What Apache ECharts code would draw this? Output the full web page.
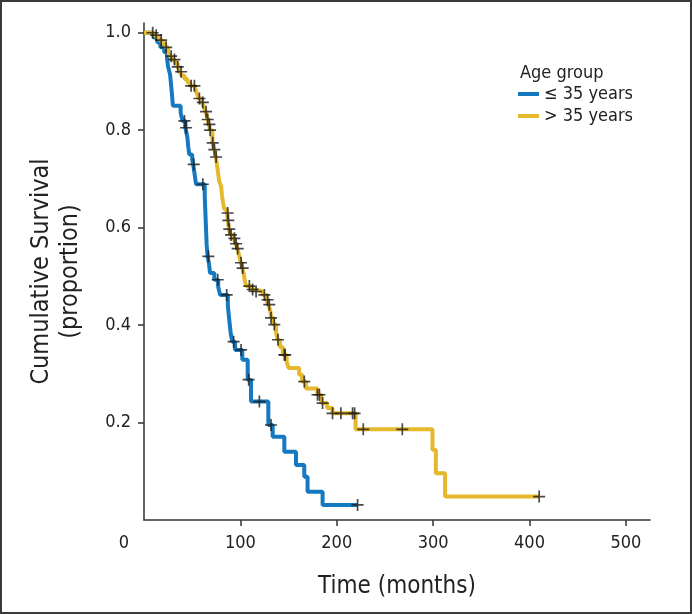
<!DOCTYPE html>
<html>
<head>
<meta charset="utf-8">
<script src="https://cdn.jsdelivr.net/npm/echarts@6/dist/echarts.min.js"></script>
<style>
  html, body { margin: 0; padding: 0; background: #fff; }
  #chart { width: 692px; height: 614px; }
  #frame { position: absolute; left: 0; top: 0; width: 692px; height: 614px; box-sizing: border-box; border: 2px solid #3a3a3a; pointer-events: none; }
</style>
</head>
<body>
<div id="chart"></div>
<div id="frame"></div>
<script>
// step points (time in months, survival after the event)
const youngTime = [0, 10, 14, 17, 21, 24, 25, 27, 28, 29, 30, 38, 40, 43, 45, 46, 47, 50, 51, 52.5, 54,
  63, 63.5, 64, 64.5, 65, 66, 67.5, 68.5, 73, 77, 79, 87, 88, 89, 90, 91.5, 94.5, 102, 107.6, 111,
  129, 133.5, 145.6, 157.7, 166.3, 169.7, 185.3, 221.6]
const youngSurv = [1, 0.99, 0.98, 0.97, 0.96, 0.945, 0.93, 0.915, 0.895, 0.874, 0.85, 0.836, 0.819, 0.805, 0.785, 0.765, 0.75, 0.74, 0.73, 0.71, 0.689,
  0.665, 0.64, 0.615, 0.59, 0.565, 0.541, 0.525, 0.507, 0.493, 0.478, 0.462, 0.44, 0.42, 0.40, 0.383, 0.366, 0.349, 0.329, 0.288, 0.243,
  0.195, 0.171, 0.140, 0.113, 0.089, 0.058, 0.031, 0.031]
const youngCensor = [42, 43.7, 51.6, 61, 66.8, 76.5, 85.8, 93, 100.7, 108.6, 119.7, 131.8, 221.6]

const oldTime = [0, 10, 13, 16, 19, 22, 25, 27, 29, 32, 35, 37, 39, 42, 45, 48, 53, 55, 57, 60, 62, 64, 65, 66, 67.5, 68.5, 71, 73, 74.5,
  76, 77, 78, 80, 81, 82, 83.5, 86, 87, 88, 90, 93, 95, 97, 99, 100.5, 102, 103.5, 104.5, 106, 111, 115, 123, 127, 129, 131, 131.8,
  134, 137, 138.5, 141, 144, 148, 150, 161, 164, 168, 180, 184, 190, 195.6, 219.5, 299.3, 302.8, 312.4, 410]
const oldSurv = [1, 0.995, 0.99, 0.985, 0.978, 0.97, 0.96, 0.952, 0.945, 0.938, 0.93, 0.92, 0.912, 0.905, 0.898, 0.891, 0.885, 0.875, 0.865, 0.857, 0.848, 0.838, 0.83, 0.822, 0.812, 0.8, 0.774, 0.76, 0.745,
  0.725, 0.71, 0.695, 0.685, 0.665, 0.651, 0.637, 0.63, 0.615, 0.597, 0.585, 0.578, 0.567, 0.557, 0.54, 0.528, 0.517, 0.505, 0.492, 0.48, 0.473, 0.469, 0.462, 0.452, 0.442, 0.43, 0.415,
  0.401, 0.385, 0.37, 0.355, 0.339, 0.325, 0.312, 0.298, 0.284, 0.27, 0.257, 0.24, 0.23, 0.219, 0.186, 0.144, 0.096, 0.048, 0.048]
const oldCensor = [9, 12.6, 17.8, 23, 28.2, 31.6, 35, 38.5, 48.9, 52.3, 57.5, 61, 64.4, 66.1, 67.9, 68.6, 71.3, 73, 74.8,
  86.8, 87.5, 88.5, 90.3, 93.8, 95.5, 97.2, 100.7, 102.4, 109.3, 112.7, 116.3, 124.9, 128.3, 130, 131.8, 135.2, 139, 145.6, 146.5,
  166.3, 180, 182, 185.3, 195.6, 204.3, 216.4, 218.5, 227.5, 268, 410]

const xTicks = [0, 100, 200, 300, 400, 500]
const yTicks = [0.2, 0.4, 0.6, 0.8, 1.0]
const groupNames = ['≤ 35 years', '> 35 years']
const colors = ['#1479c0', '#e6b82b']

const FONT = '"Liberation Sans Narrow", "DejaVu Sans Condensed", "Liberation Sans", sans-serif'
const plusPath = 'path://M4.3,0 H5.7 V4.3 H10 V5.7 H5.7 V10 H4.3 V5.7 H0 V4.3 H4.3 Z'

function steps(times, surv) {
  return times.map((t, i) => [t, surv[i]])
}
function censorPoints(cens, times, surv) {
  return cens.map(c => {
    let s = surv[0]
    for (let i = 0; i < times.length; i++) {
      if (times[i] <= c) s = surv[i]
    }
    return [c, s]
  })
}

const chart = echarts.init(document.getElementById('chart'))
chart.setOption({
  animation: false,
  backgroundColor: '#fff',
  textStyle: { fontFamily: FONT },
  title: {
    text: 'Age group',
    left: 515,
    top: 59,
    textStyle: { fontFamily: FONT, fontSize: 18, fontWeight: 'normal', color: '#222' }
  },
  legend: {
    data: groupNames,
    orient: 'vertical',
    left: 513,
    top: 80,
    itemWidth: 21,
    itemHeight: 4,
    itemGap: 4,
    icon: 'rect',
    textStyle: { fontFamily: FONT, fontSize: 18, color: '#222' }
  },
  grid: { left: 144, right: 42, top: 23, bottom: 94 },
  xAxis: {
    type: 'value',
    min: 0,
    max: 525,
    name: 'Time (months)',
    nameLocation: 'middle',
    nameGap: 55,
    nameTextStyle: { fontFamily: FONT, fontSize: 24, color: '#222' },
    axisLine: { lineStyle: { color: '#333', width: 1.5 } },
    axisTick: { show: true, length: 6, customValues: [100, 200, 300, 400, 500], lineStyle: { color: '#333', width: 1.5 } },
    axisLabel: {
      customValues: xTicks,
      margin: 14,
      fontFamily: FONT,
      fontSize: 18,
      color: '#222',
      formatter: v => (v === 0 ? '{z|0}' : String(v)),
      rich: { z: { fontFamily: FONT, fontSize: 18, color: '#222', padding: [0, 40, 0, 0] } }
    },
    splitLine: { show: false }
  },
  yAxis: {
    type: 'value',
    min: 0,
    max: 1.02,
    name: 'Cumulative Survival\n(proportion)',
    nameLocation: 'middle',
    nameGap: 59,
    nameTextStyle: { fontFamily: FONT, fontSize: 25, color: '#222', lineHeight: 29 },
    axisLine: { lineStyle: { color: '#333', width: 1.5 } },
    axisTick: { show: true, length: 6, customValues: yTicks, lineStyle: { color: '#333', width: 1.5 } },
    axisLabel: {
      customValues: yTicks,
      margin: 13,
      fontFamily: FONT,
      fontSize: 18,
      color: '#222',
      formatter: v => v.toFixed(1)
    },
    splitLine: { show: false }
  },
  series: [
    {
      name: groupNames[0],
      type: 'line',
      step: 'end',
      showSymbol: false,
      color: colors[0],
      lineStyle: { width: 4, color: colors[0] },
      data: steps(youngTime, youngSurv)
    },
    {
      name: groupNames[1],
      type: 'line',
      step: 'end',
      showSymbol: false,
      color: colors[1],
      lineStyle: { width: 4, color: colors[1] },
      data: steps(oldTime, oldSurv)
    },
    {
      name: 'censor young',
      type: 'scatter',
      symbol: plusPath,
      symbolSize: 12,
      itemStyle: { color: '#1c1c1c' },
      z: 5,
      data: censorPoints(youngCensor, youngTime, youngSurv)
    },
    {
      name: 'censor old',
      type: 'scatter',
      symbol: plusPath,
      symbolSize: 12,
      itemStyle: { color: '#1c1c1c' },
      z: 5,
      data: censorPoints(oldCensor, oldTime, oldSurv)
    }
  ]
})
</script>
</body>
</html>
